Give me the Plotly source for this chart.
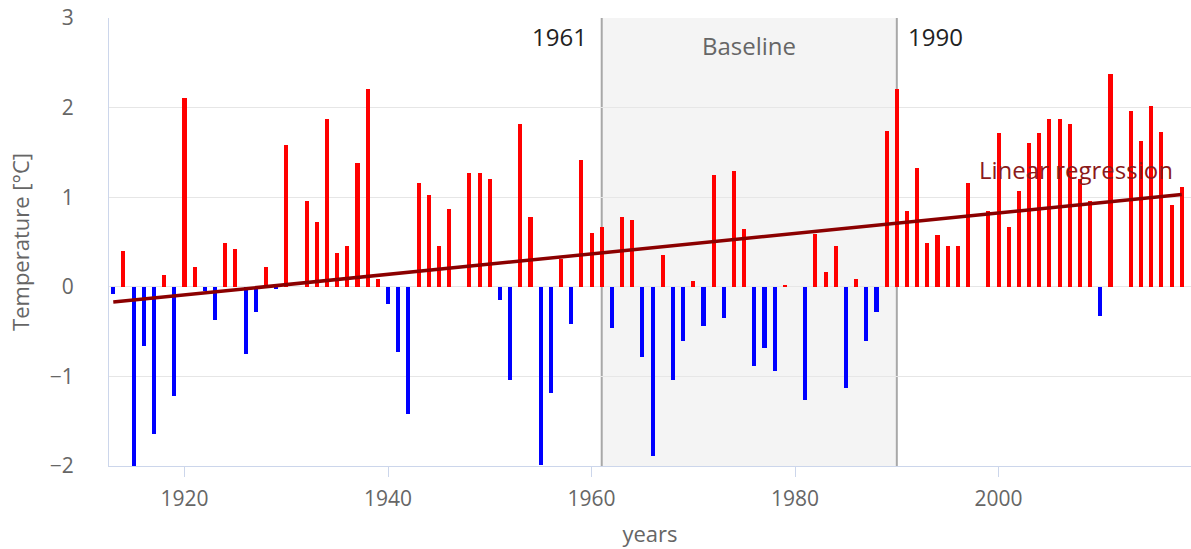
import plotly.graph_objects as go

# Annual temperature anomalies (°C) relative to the 1961–1990 baseline
years = list(range(1913, 2019))
anomalies = [
    -0.08, 0.40, -2.00, -0.66, -1.64, 0.13, -1.22, 2.11, 0.22, -0.05,   # 1913-1922
    -0.37, 0.49, 0.42, -0.75, -0.28, 0.22, -0.03, 1.58, 0.00, 0.96,     # 1923-1932
    0.72, 1.87, 0.38, 0.45, 1.38, 2.21, 0.09, -0.19, -0.73, -1.42,      # 1933-1942
    1.16, 1.02, 0.46, 0.87, 0.00, 1.27, 1.27, 1.20, -0.15, -1.04,       # 1943-1952
    1.82, 0.78, -1.99, -1.18, 0.31, -0.42, 1.42, 0.60, 0.67, -0.46,     # 1953-1962
    0.78, 0.75, -0.78, -1.89, 0.35, -1.04, -0.60, 0.06, -0.44, 1.25,    # 1963-1972
    -0.35, 1.29, 0.64, -0.88, -0.68, -0.94, 0.02, 0.00, -1.26, 0.59,    # 1973-1982
    0.17, 0.45, -1.13, 0.09, -0.61, -0.28, 1.74, 2.21, 0.85, 1.33,      # 1983-1992
    0.49, 0.58, 0.45, 0.45, 1.16, 0.00, 0.85, 1.72, 0.67, 1.07,         # 1993-2002
    1.60, 1.72, 1.87, 1.87, 1.82, 1.20, 0.96, -0.33, 2.38, 0.00,        # 2003-2012
    1.96, 1.63, 2.02, 1.73, 0.91, 1.11,                                 # 2013-2018
]

# Linear trend line end points
trend_years = [1913, 2018]
trend_values = [-0.17, 1.03]

# Reference period
baseline_start = 1961
baseline_end = 1990

bar_colors = ["#ff0000" if v >= 0 else "#0000ff" for v in anomalies]

FONT = "Open Sans, Noto Sans, sans-serif"
AXIS_GREY = "#666666"

fig = go.Figure()

fig.add_trace(go.Bar(
    x=years,
    y=anomalies,
    width=0.4,
    marker=dict(color=bar_colors, line=dict(width=0)),
    showlegend=False,
    hoverinfo="x+y",
))

fig.add_trace(go.Scatter(
    x=trend_years,
    y=trend_values,
    mode="lines",
    line=dict(color="#8b0000", width=3.5),
    showlegend=False,
    hoverinfo="skip",
))

# Shaded baseline band and its boundary lines
fig.add_shape(type="rect", xref="x", yref="paper",
              x0=baseline_start, x1=baseline_end, y0=0, y1=1,
              fillcolor="#f4f4f4", line=dict(width=0), layer="below")
for yr in (baseline_start, baseline_end):
    fig.add_shape(type="line", xref="x", yref="paper",
                  x0=yr, x1=yr, y0=0, y1=1,
                  line=dict(color="#a8a8a8", width=2), layer="below")

fig.add_annotation(x=baseline_start, y=0.9576, xref="x", yref="paper",
                   text=str(baseline_start), showarrow=False,
                   xanchor="right", yanchor="middle", xshift=-13,
                   font=dict(family=FONT, size=24, color="#222222"))
fig.add_annotation(x=baseline_end, y=0.9576, xref="x", yref="paper",
                   text=str(baseline_end), showarrow=False,
                   xanchor="left", yanchor="middle", xshift=9,
                   font=dict(family=FONT, size=24, color="#222222"))
fig.add_annotation(x=(baseline_start + baseline_end) / 2, y=0.9397,
                   xref="x", yref="paper", text="Baseline", showarrow=False,
                   xanchor="center", yanchor="middle",
                   font=dict(family=FONT, size=24, color="#666666"))
fig.add_annotation(x=2007.6, y=1.31, xref="x", yref="y",
                   text="Linear regression", showarrow=False,
                   xanchor="center", yanchor="middle",
                   font=dict(family=FONT, size=24, color="#8b1a1a"))

fig.update_layout(
    width=1191,
    height=549,
    margin=dict(l=109, r=0, t=18, b=83),
    paper_bgcolor="white",
    plot_bgcolor="white",
    bargap=0,
    font=dict(family=FONT, color=AXIS_GREY),
)

fig.update_xaxes(
    range=[1912.58, 2018.91],
    tickvals=[1920, 1940, 1960, 1980, 2000],
    ticks="outside",
    ticklen=10,
    tickcolor="#ccd6eb",
    tickwidth=1,
    showline=True,
    linecolor="#ccd6eb",
    linewidth=1,
    showgrid=False,
    zeroline=False,
    tickfont=dict(family=FONT, size=21, color=AXIS_GREY),
    ticklabelstandoff=4,
    title=dict(text="years", font=dict(family=FONT, size=22, color=AXIS_GREY),
               standoff=15),
)

fig.update_yaxes(
    range=[-2, 3],
    tickvals=[-2, -1, 0, 1, 2, 3],
    ticktext=["−2", "−1", "0", "1", "2", "3"],
    showline=True,
    linecolor="#ccd6eb",
    linewidth=1,
    showgrid=True,
    gridcolor="#e6e6e6",
    gridwidth=1,
    zeroline=False,
    ticks="",
    tickfont=dict(family=FONT, size=21, color=AXIS_GREY),
    ticklabelstandoff=30,
    title=dict(text="Temperature [°C]",
               font=dict(family=FONT, size=22, color=AXIS_GREY),
               standoff=14),
)

fig.write_html("out.html")
